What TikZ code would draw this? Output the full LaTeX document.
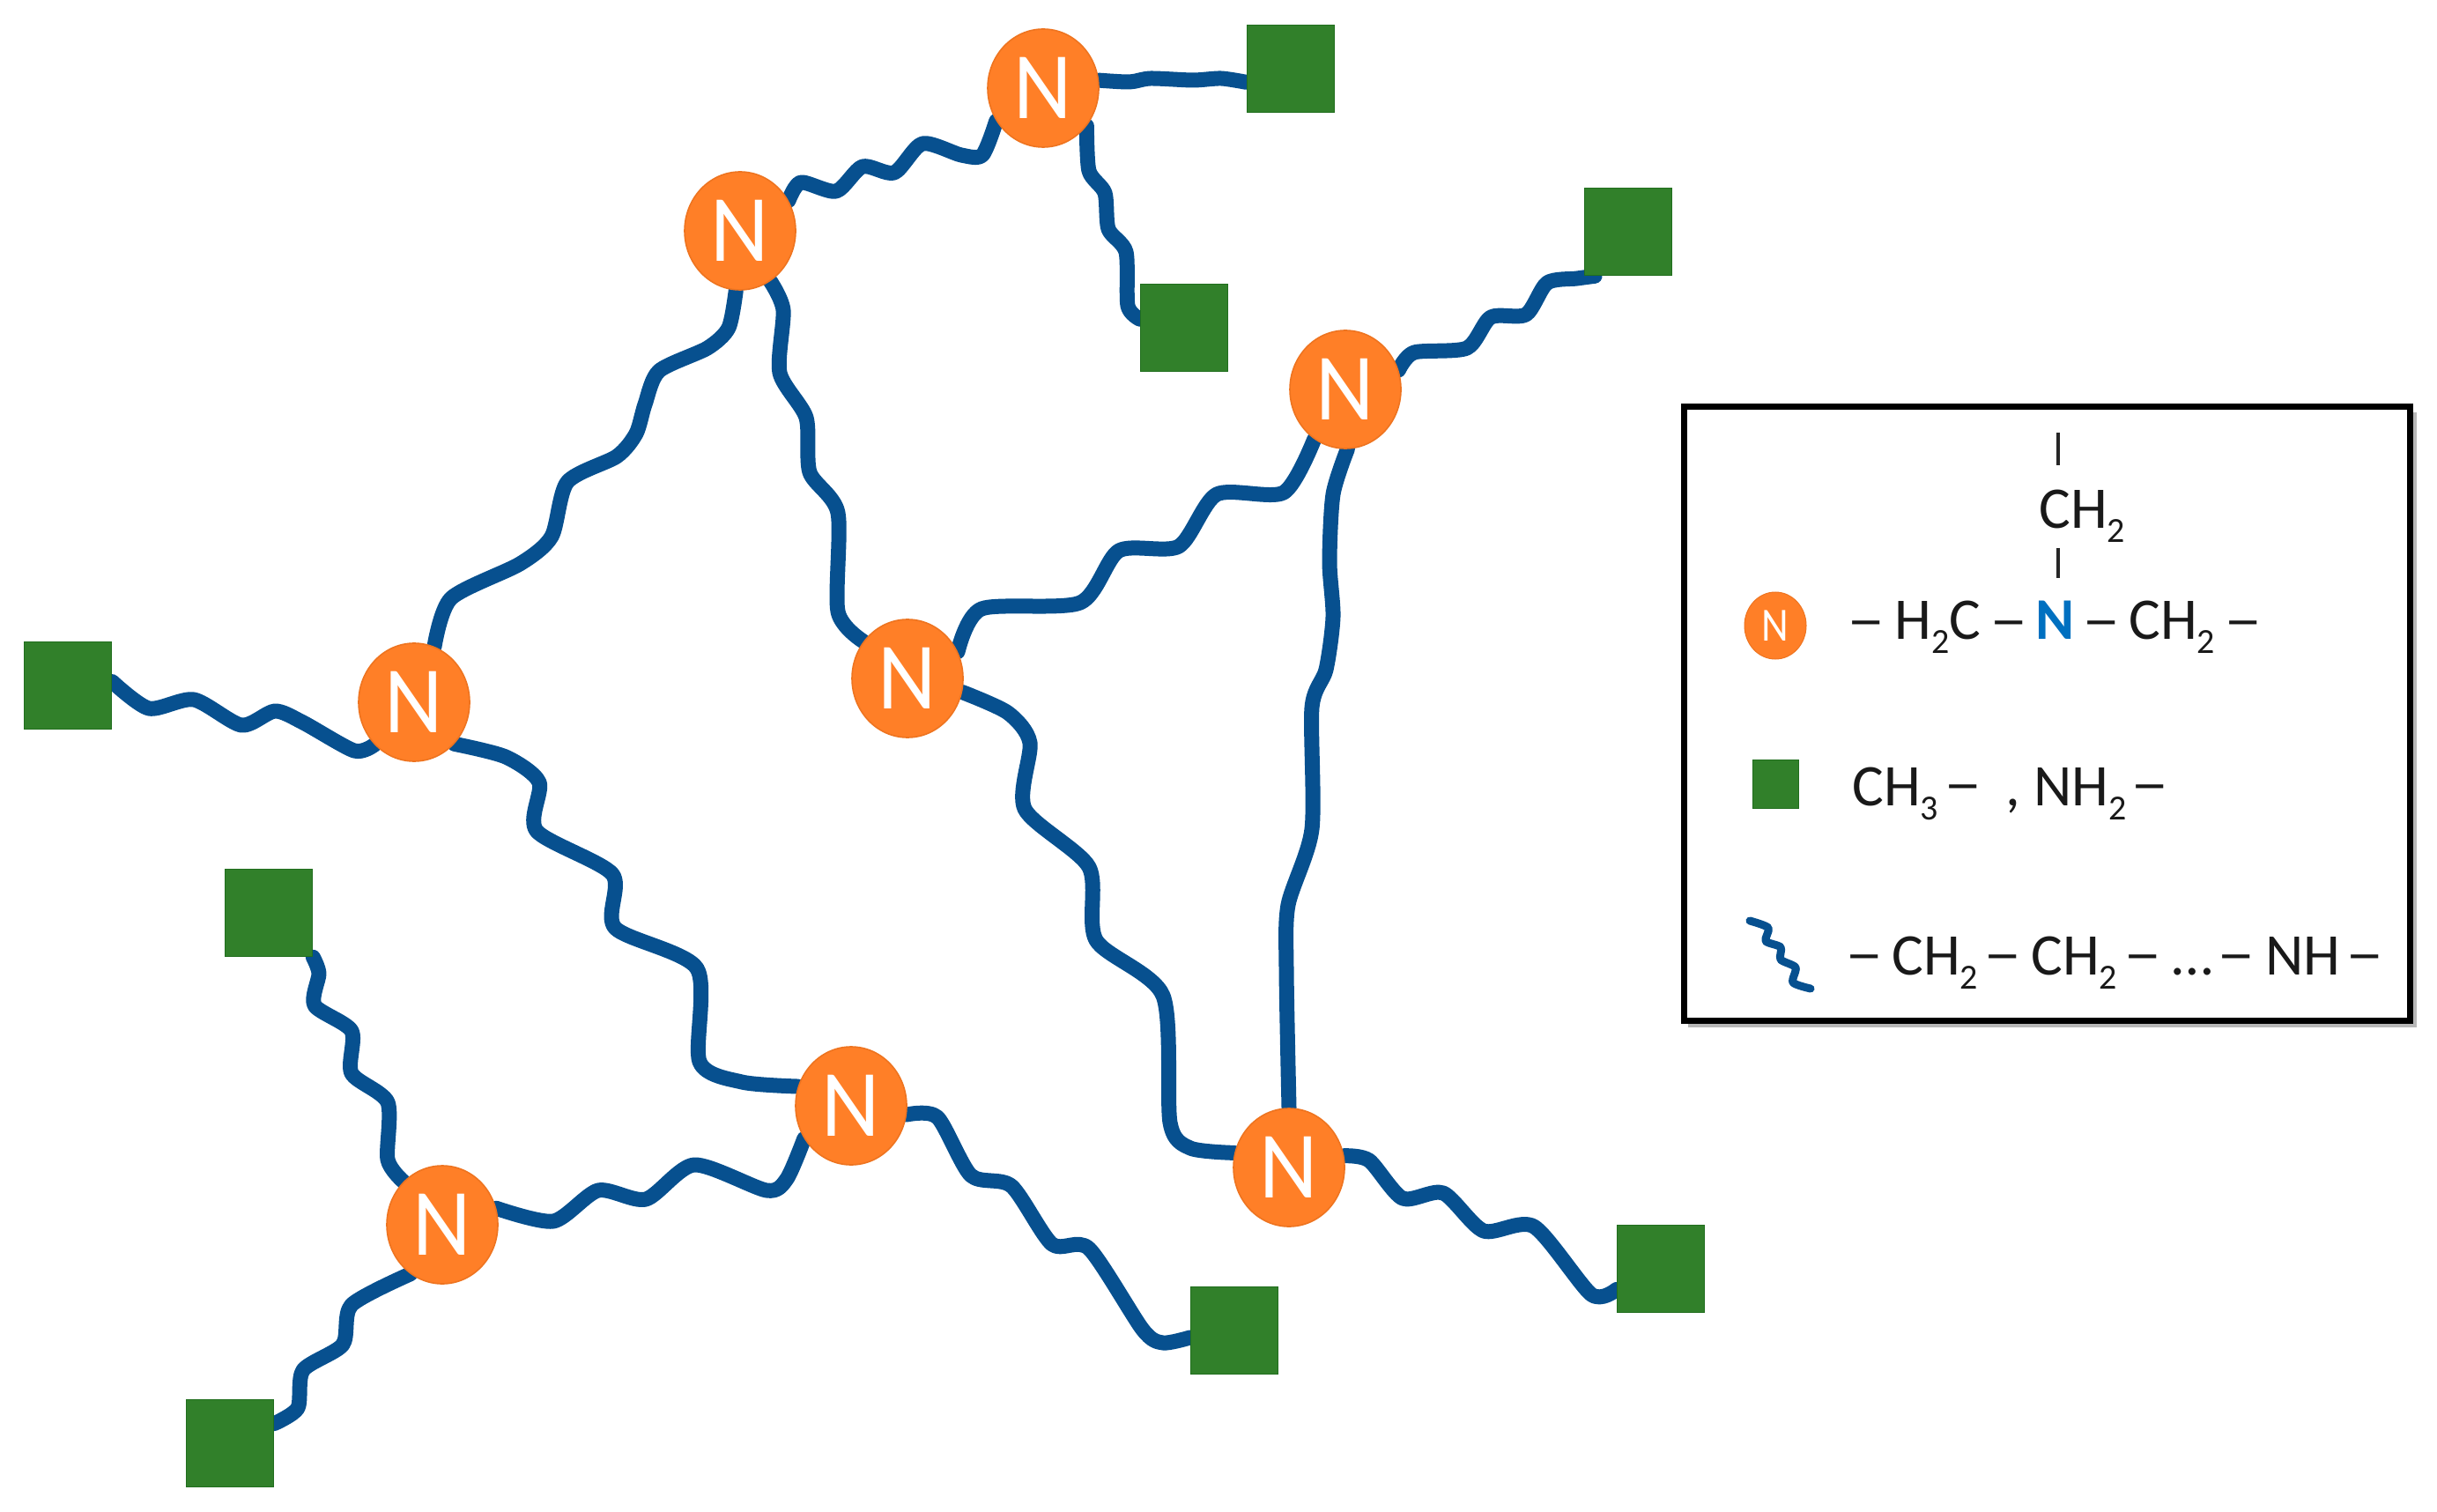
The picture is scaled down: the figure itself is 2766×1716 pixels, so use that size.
\documentclass[tikz,border=0pt]{standalone}
\usepackage{fontspec}
\setmainfont{Carlito}
\usetikzlibrary{shapes.geometric,backgrounds}
\definecolor{nodeorange}{HTML}{FF7F27}
\definecolor{nodeedge}{HTML}{EE7420}
\definecolor{termgreen}{HTML}{31802A}
\definecolor{termedge}{HTML}{216E1E}
\definecolor{wireblue}{HTML}{07508F}
\definecolor{nblue}{HTML}{0070C0}
\newcommand\sbs[1]{\raisebox{-8pt}{\fontsize{20}{20}\selectfont #1}}
\newcommand\bigN{\raisebox{-2.5pt}{\scalebox{0.95}[1]{N}}}
\newcommand\dsh{\scalebox{1.3}[1]{–}}
\tikzset{
  x=0.5pt,y=-0.5pt,
  amine/.style={ellipse,fill=nodeorange,draw=nodeedge,line width=0.8pt,minimum width=63pt,minimum height=67pt,inner sep=0pt,text=white,font=\fontsize{54}{54}\selectfont},
  term/.style={rectangle,fill=termgreen,draw=termedge,line width=0.8pt,minimum width=49.5pt,minimum height=49.5pt,inner sep=0pt},
  wire/.style={draw=wireblue,line width=8.5pt,line cap=round,line join=round},
  lg/.style={anchor=base west,inner sep=0pt,text=black!90,font=\fontsize{33.5}{33.5}\selectfont},
  bar/.style={draw=black!85,line width=2.2pt},
}
\begin{document}
\begin{tikzpicture}
\useasboundingbox (0,0) rectangle (2766,1716);
% amine nodes
\node[amine] (n1) at (1184,100) {\bigN};
\node[amine] (n2) at (840,262) {\bigN};
\node[amine] (n3) at (1527,442) {\bigN};
\node[amine] (n4) at (1030,770) {\bigN};
\node[amine] (n5) at (470,797) {\bigN};
\node[amine] (n6) at (966,1255) {\bigN};
\node[amine] (n7) at (1463,1325) {\bigN};
\node[amine] (n8) at (502,1390) {\bigN};
% terminal squares
\node[term] (s1) at (1465,78) {};
\node[term] (s2) at (1344,372) {};
\node[term] (s3) at (1848,263) {};
\node[term] (s4) at (77,778) {};
\node[term] (s5) at (305,1036) {};
\node[term] (s6) at (261,1638) {};
\node[term] (s7) at (1401,1510) {};
\node[term] (s8) at (1885,1440) {};
% chains
\begin{pgfonlayer}{background}
\draw[wire] plot[smooth,tension=.45] coordinates {(n1.8) (1282,93) (1306,89) (1354,91) (1386,89) (s1.197)};
\draw[wire] plot[smooth,tension=.45] coordinates {(n1.-41) (1236,194) (1254,219) (1258,260) (1278,286) (1280,347) (s2.169)};
\draw[wire] plot[smooth,tension=.45] coordinates {(n2.32) (909,207) (949,217) (979,189) (1015,196) (1047,163) (1091,176) (1115,176) (n1.215)};
\draw[wire] plot[smooth,tension=.45] coordinates {(n3.20) (1605,400) (1665,395) (1692,360) (1732,357) (1756,321) (1790,316) (s3.233)};
\draw[wire] plot[smooth,tension=.45] coordinates {(n2.-59) (889,352) (885,423) (915,474) (919,536) (951,582) (951,694) (n4.140)};
\draw[wire] plot[smooth,tension=.45] coordinates {(n2.-94) (827,372) (803,395) (748,421) (732,459) (722,492) (700,518) (644,547) (626,609) (590,640) (512,679) (n5.70)};
\draw[wire] plot[smooth,tension=.45] coordinates {(s4.5) (169,804) (220,794) (274,823) (312,807) (344,820) (402,852) (n5.227)};
\draw[wire] plot[smooth,tension=.45] coordinates {(n5.-46) (574,859) (612,888) (609,943) (695,992) (698,1053) (791,1099) (794,1205) (842,1228) (n6.160)};
\draw[wire] plot[smooth,tension=.45] coordinates {(s5.-45) (362,1105) (357,1141) (399,1170) (399,1218) (440,1251) (440,1316) (n8.132)};
\draw[wire] plot[smooth,tension=.45] coordinates {(n8.17) (628,1386) (679,1351) (733,1361) (788,1322) (870,1351) (893,1338) (n6.215)};
\draw[wire] plot[smooth,tension=.45] coordinates {(n8.237) (399,1481) (389,1526) (344,1555) (338,1598) (s6.24)};
\draw[wire] plot[smooth,tension=.45] coordinates {(n6.-9) (1064,1268) (1102,1334) (1148,1346) (1194,1412) (1236,1417) (1297,1509) (1320,1524) (s7.189)};
\draw[wire] plot[smooth,tension=.45] coordinates {(n4.-14) (1144,809) (1169,843) (1163,918) (1236,984) (1244,1067) (1320,1130) (1328,1274) (1351,1303) (n7.165)};
\draw[wire] plot[smooth,tension=.45] coordinates {(n7.12) (1554,1317) (1592,1360) (1638,1354) (1684,1397) (1741,1392) (1806,1469) (s8.205)};
\draw[wire] plot[smooth,tension=.45] coordinates {(n3.-88) (1513,561) (1509,638) (1513,700) (1505,760) (1489,803) (1489,941) (1462,1027) (1460,1100) (n7.90)};
\draw[wire] plot[smooth,tension=.45] coordinates {(n3.238) (1457,559) (1381,561) (1338,620) (1270,625) (1226,684) (1114,691) (n4.28)};
% legend shadow
\fill[black!28] (1916,468) rectangle (2743,1166);
\end{pgfonlayer}
% legend
\node[rectangle,draw=black,fill=white,line width=3.5pt,inner sep=0pt,minimum width=412pt,minimum height=348pt] (legend) at (2323,810) {};
\coordinate (b1a) at (2336,491);
\coordinate (b1b) at (2336,528);
\coordinate (b2a) at (2336,622);
\coordinate (b2b) at (2336,656);
\draw[bar] (b1a) -- (b1b);
\draw[bar] (b2a) -- (b2b);
\node[lg] (ch) at (2314,600) {CH\sbs{2}};
\node[amine,minimum width=35pt,minimum height=38pt,line width=0.5pt,font=\fontsize{27}{27}\selectfont] (ln) at (2015,710) {\scalebox{0.88}[1]{N}};
\node[lg] (a1) at (2096,725) {\dsh};
\node[lg] (a2) at (2150,725) {H\sbs{2}C};
\node[lg] (a3) at (2258,725) {\dsh};
\node[lg,text=nblue,font=\fontsize{33.5}{33.5}\selectfont\bfseries] (a4) at (2310,725) {N};
\node[lg] (a5) at (2363,725) {\dsh};
\node[lg] (a6) at (2416,725) {CH\sbs{2}};
\node[lg] (a7) at (2524,725) {\dsh};
\node[term,minimum width=26pt,minimum height=27.5pt,line width=0.5pt] (ls) at (2015,890) {};
\node[lg] (c1) at (2102,914) {CH\sbs{3}};
\node[lg] (c2) at (2206,911) {\dsh};
\node[lg] (c3) at (2276,914) {,};
\node[lg] (c4) at (2308,914) {NH\sbs{2}};
\node[lg] (c5) at (2418,911) {\dsh};
\coordinate (wa) at (1986,1045);
\coordinate (wb) at (2055,1122);
\draw[wire,line width=4.5pt] plot[smooth,tension=.45] coordinates {(wa) (2007,1053) (2004,1068) (2021,1075) (2021,1089) (2038,1098) (2035,1115) (wb)};
\node[lg] (e1) at (2094,1104) {\dsh};
\node[lg] (e2) at (2147,1106) {CH\sbs{2}};
\node[lg] (e3) at (2251,1104) {\dsh};
\node[lg] (e4) at (2305,1106) {CH\sbs{2}};
\node[lg] (e5) at (2410,1104) {\dsh};
\node[lg] (e6) at (2465,1106) {…};
\node[lg] (e7) at (2516,1104) {\dsh};
\node[lg] (e8) at (2571,1106) {NH};
\node[lg] (e9) at (2662,1104) {\dsh};
\end{tikzpicture}
\end{document}
